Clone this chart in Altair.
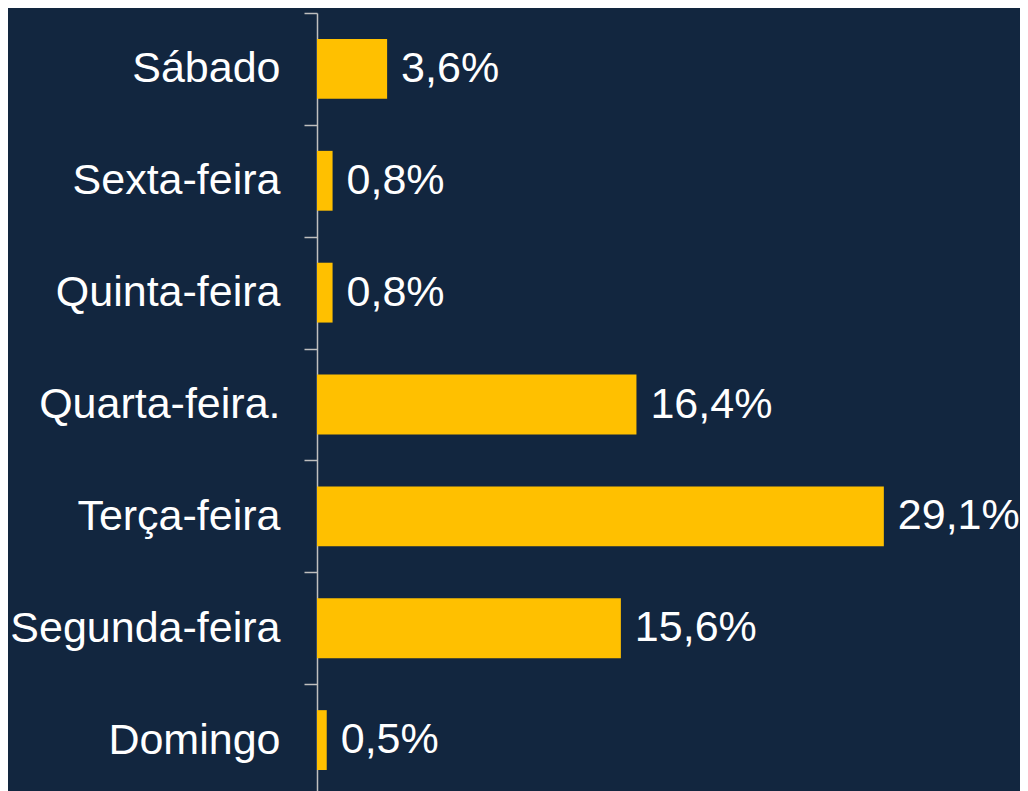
import altair as alt
import pandas as pd

days = ["Sábado", "Sexta-feira", "Quinta-feira", "Quarta-feira.", "Terça-feira", "Segunda-feira", "Domingo"]
values = [3.6, 0.8, 0.8, 16.4, 29.1, 15.6, 0.5]
labels = [f"{v:.1f}%".replace(".", ",") for v in values]

df = pd.DataFrame({"day": days, "value": values, "label": labels})

FONT = "Liberation Sans"
BG = "#12263F"

y_enc = alt.Y(
    "day:N",
    sort=days,
    title=None,
    scale=alt.Scale(paddingInner=0, paddingOuter=0),
    axis=alt.Axis(
        tickBand="extent",
        labelFont=FONT,
        labelFontSize=43,
        labelColor="white",
        labelPadding=24,
        tickSize=13,
        tickColor="#BFBFBF",
        tickWidth=1.5,
        domainColor="#BFBFBF",
        domainWidth=1.5,
        labelLimit=400,
        grid=False,
    ),
)
x_enc = alt.X("value:Q", axis=None, scale=alt.Scale(domain=[0, 36.09], nice=False, zero=True))

bars = alt.Chart(df).mark_bar(color="#FFC000", height={"band": 0.535}).encode(x=x_enc, y=y_enc)
text = alt.Chart(df).mark_text(
    align="left", baseline="middle", dx=14, font=FONT, fontSize=43, color="white"
).encode(x=x_enc, y=y_enc, text="label:N")

chart = (
    alt.layer(bars, text)
    .properties(
        width=703,
        height=783,
        padding={"left": 309, "top": 5, "right": 0, "bottom": 0},
        autosize=alt.AutoSizeParams(type="none"),
        background=BG,
    )
    .configure_view(stroke=None)
)

chart.save("out.html", embed_options={"renderer": "svg", "actions": False})
